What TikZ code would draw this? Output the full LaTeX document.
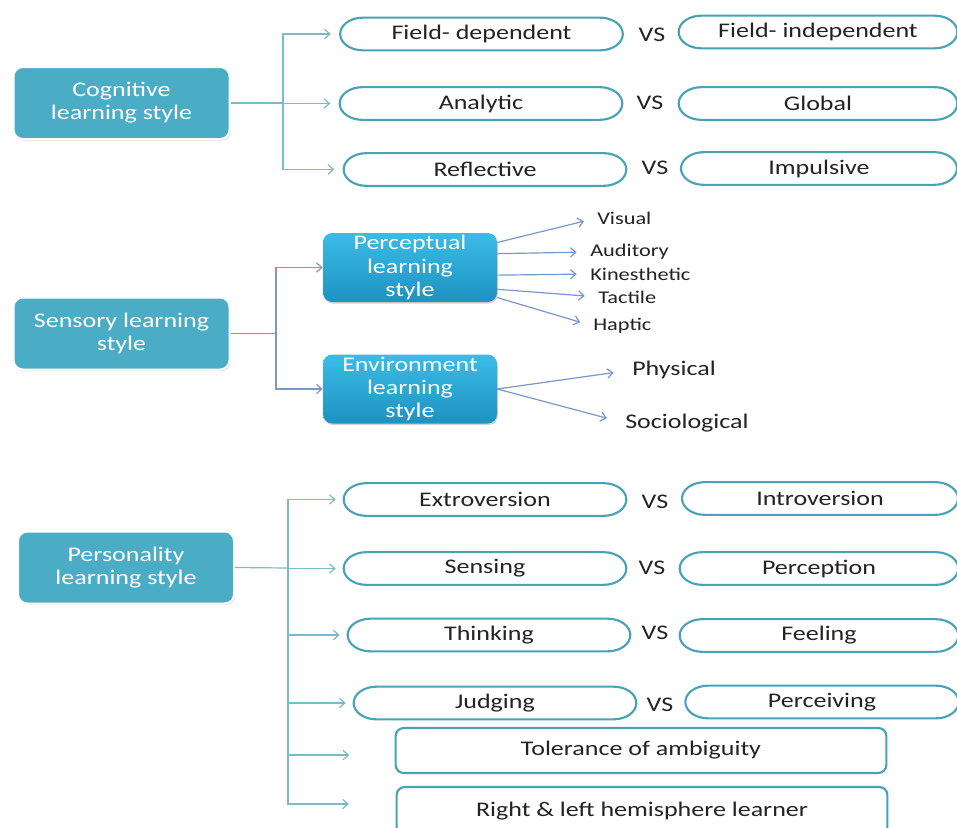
\documentclass[tikz,border=0pt]{standalone}
\usepackage{fontspec}
\setmainfont{Carlito}[FakeStretch=1.25]
\usepackage{tikz}
\usetikzlibrary{arrows.meta,shadows}
\definecolor{boxblue}{RGB}{75,172,198}
\definecolor{subtop}{RGB}{58,188,230}
\definecolor{subbottom}{RGB}{30,146,192}
\definecolor{pillline}{RGB}{72,162,184}
\definecolor{linkteal}{RGB}{122,186,202}
\definecolor{linkblue}{RGB}{122,150,204}
\definecolor{txtdark}{RGB}{35,35,35}
\newcommand{\mainFont}[0]{\fontsize{15.6}{17.3}\selectfont}
\newcommand{\leafFont}[0]{\fontsize{13.4}{15}\selectfont}

\begin{document}
\begin{tikzpicture}[x=0.75pt, y=-0.75pt]
  \tikzset{
    mainbox/.style={draw=white, line width=1.5pt, fill=boxblue, rounded corners=7pt,
      text=white, align=center, minimum width=162pt, minimum height=54pt, font=\mainFont,
      drop shadow={shadow xshift=0.8pt, shadow yshift=-1.2pt, opacity=0.3}},
    subbox/.style={top color=subtop, bottom color=subbottom, rounded corners=7pt,
      text=white, align=center, minimum width=130.5pt, minimum height=51.75pt,
      inner sep=1pt, font=\mainFont,
      drop shadow={shadow xshift=0.6pt, shadow yshift=-1.2pt, opacity=0.35}},
    pill/.style={outer sep=0pt, text=txtdark, minimum width=#1,
      minimum height=24.5pt, font=\mainFont},
    pill/.default=212pt,
    pillborder/.style={draw=pillline, line width=1.6pt},
    plainbox/.style={rectangle, rounded corners=6pt, draw=pillline, line width=1.6pt,
      fill=white, text=txtdark, minimum width=368pt, font=\mainFont},
    vs/.style={text=txtdark, font=\mainFont},
    leaf/.style={anchor=west, inner sep=0pt, text=txtdark, font=\leafFont},
    bigleaf/.style={leaf, font=\mainFont},
    link/.style={draw=linkteal, line width=0.9pt},
    bluelink/.style={link, draw=linkblue},
    >={Straight Barb[length=4pt, width=7pt]}
  }
  \path[use as bounding box, fill=white] (0,0) rectangle (957,828);

  % cognitive
  \node[mainbox] (cog) at (121.5,103) {Cognitive\\learning style};
  \node[pill] (c1l) at (481.5,34) {Field- dependent};
  \node[vs] (c1v) at (652,35) {VS};
  \node[pill=209pt] (c1r) at (818,32) {Field- independent};
  \node[pill] (c2l) at (481,103.5) {Analytic};
  \node[vs] (c2v) at (650,103) {VS};
  \node[pill=209pt] (c2r) at (818,103.5) {Global};
  \node[pill] (c3l) at (485,169.5) {Reflective};
  \node[vs] (c3v) at (655,168) {VS};
  \node[pill=207pt] (c3r) at (819,168.5) {Impulsive};

  \coordinate (cogbus) at (283,103);
  \draw[link] (cog.east) -- (cogbus);
  \foreach \n in {c1l,c2l,c3l}
    \draw[link,->,shorten >=7pt] (cogbus) |- (\n.west);

  % sensory
  \node[mainbox] (sens) at (121.5,333.5) {Sensory learning\\style};
  \node[subbox] (perc) at (410,267.5) {Perceptual\\learning\\style};
  \node[subbox] (envi) at (410,389) {Environment\\learning\\style};

  \coordinate (sensbus) at (276,333.5);
  \draw[bluelink] (sens.east) -- (sensbus);
  \foreach \n in {perc,envi}
    \draw[bluelink,->] (sensbus) |- (\n.west);

  \node[leaf] (vis) at (597,218) {Visual};
  \node[leaf] (aud) at (590,252) {Auditory};
  \node[leaf] (kin) at (590,274) {Kinesthetic};
  \node[leaf] (tac) at (598,297) {Tactile};
  \node[leaf] (hap) at (593,326) {Haptic};
  \foreach \a/\n in {16/vis,9/aud,355/kin,346/tac,341/hap}
    \draw[bluelink,->,shorten >=10pt] (perc.\a) -- (\n.west);

  \node[bigleaf] (phys) at (632,370) {Physical};
  \node[bigleaf] (soc) at (625,423) {Sociological};
  \foreach \n in {phys,soc}
    \draw[bluelink,->,shorten >=14pt] (envi.east) -- (\n.west);

  % personality
  \node[mainbox] (pers) at (126,567.5) {Personality\\learning style};
  \node[pill] (p1l) at (485,499.5) {Extroversion};
  \node[vs] (p1v) at (655,502) {VS};
  \node[pill=207pt] (p1r) at (820,498.5) {Introversion};
  \node[pill] (p2l) at (485,568.5) {Sensing};
  \node[vs] (p2v) at (652,568) {VS};
  \node[pill=209pt] (p2r) at (819,568.5) {Perception};
  \node[pill] (p3l) at (489,635) {Thinking};
  \node[vs] (p3v) at (655,633) {VS};
  \node[pill=209pt] (p3r) at (819,635.5) {Feeling};
  \node[pill] (p4l) at (495,703) {Judging};
  \node[vs] (p4v) at (660,705) {VS};
  \node[pill=205pt] (p4r) at (822,702) {Perceiving};
  \node[plainbox, minimum height=33.75pt] (tol) at (641,750.5) {Tolerance of ambiguity};
  \node[plainbox, minimum height=36pt] (rlh) at (642,811) {Right \& left hemisphere learner};

  \coordinate (persbus) at (288,568);
  \draw[link] (pers.east) -- (persbus);
  \foreach \n in {p1l,p2l,p3l,p4l}
    \draw[link,->,shorten >=6pt] (persbus) |- (\n.west);
  \draw[link,->,shorten >=34pt] (persbus) |- ([yshift=-3.4pt]tol.west);
  \draw[link,->,shorten >=35pt] (persbus) |- ([yshift=5.2pt]rlh.west);

  % elliptic ends round every pill
  \foreach \n in {c1l,c1r,c2l,c2r,c3l,c3r,p1l,p1r,p2l,p2r,p3l,p3r,p4l,p4r}
    \draw[pillborder] ([xshift=17pt]\n.north west) -- ([xshift=-17pt]\n.north east)
      arc[start angle=90, end angle=-90, x radius=17pt, y radius=12.25pt]
      -- ([xshift=17pt]\n.south west)
      arc[start angle=270, end angle=90, x radius=17pt, y radius=12.25pt] -- cycle;
\end{tikzpicture}
\end{document}
